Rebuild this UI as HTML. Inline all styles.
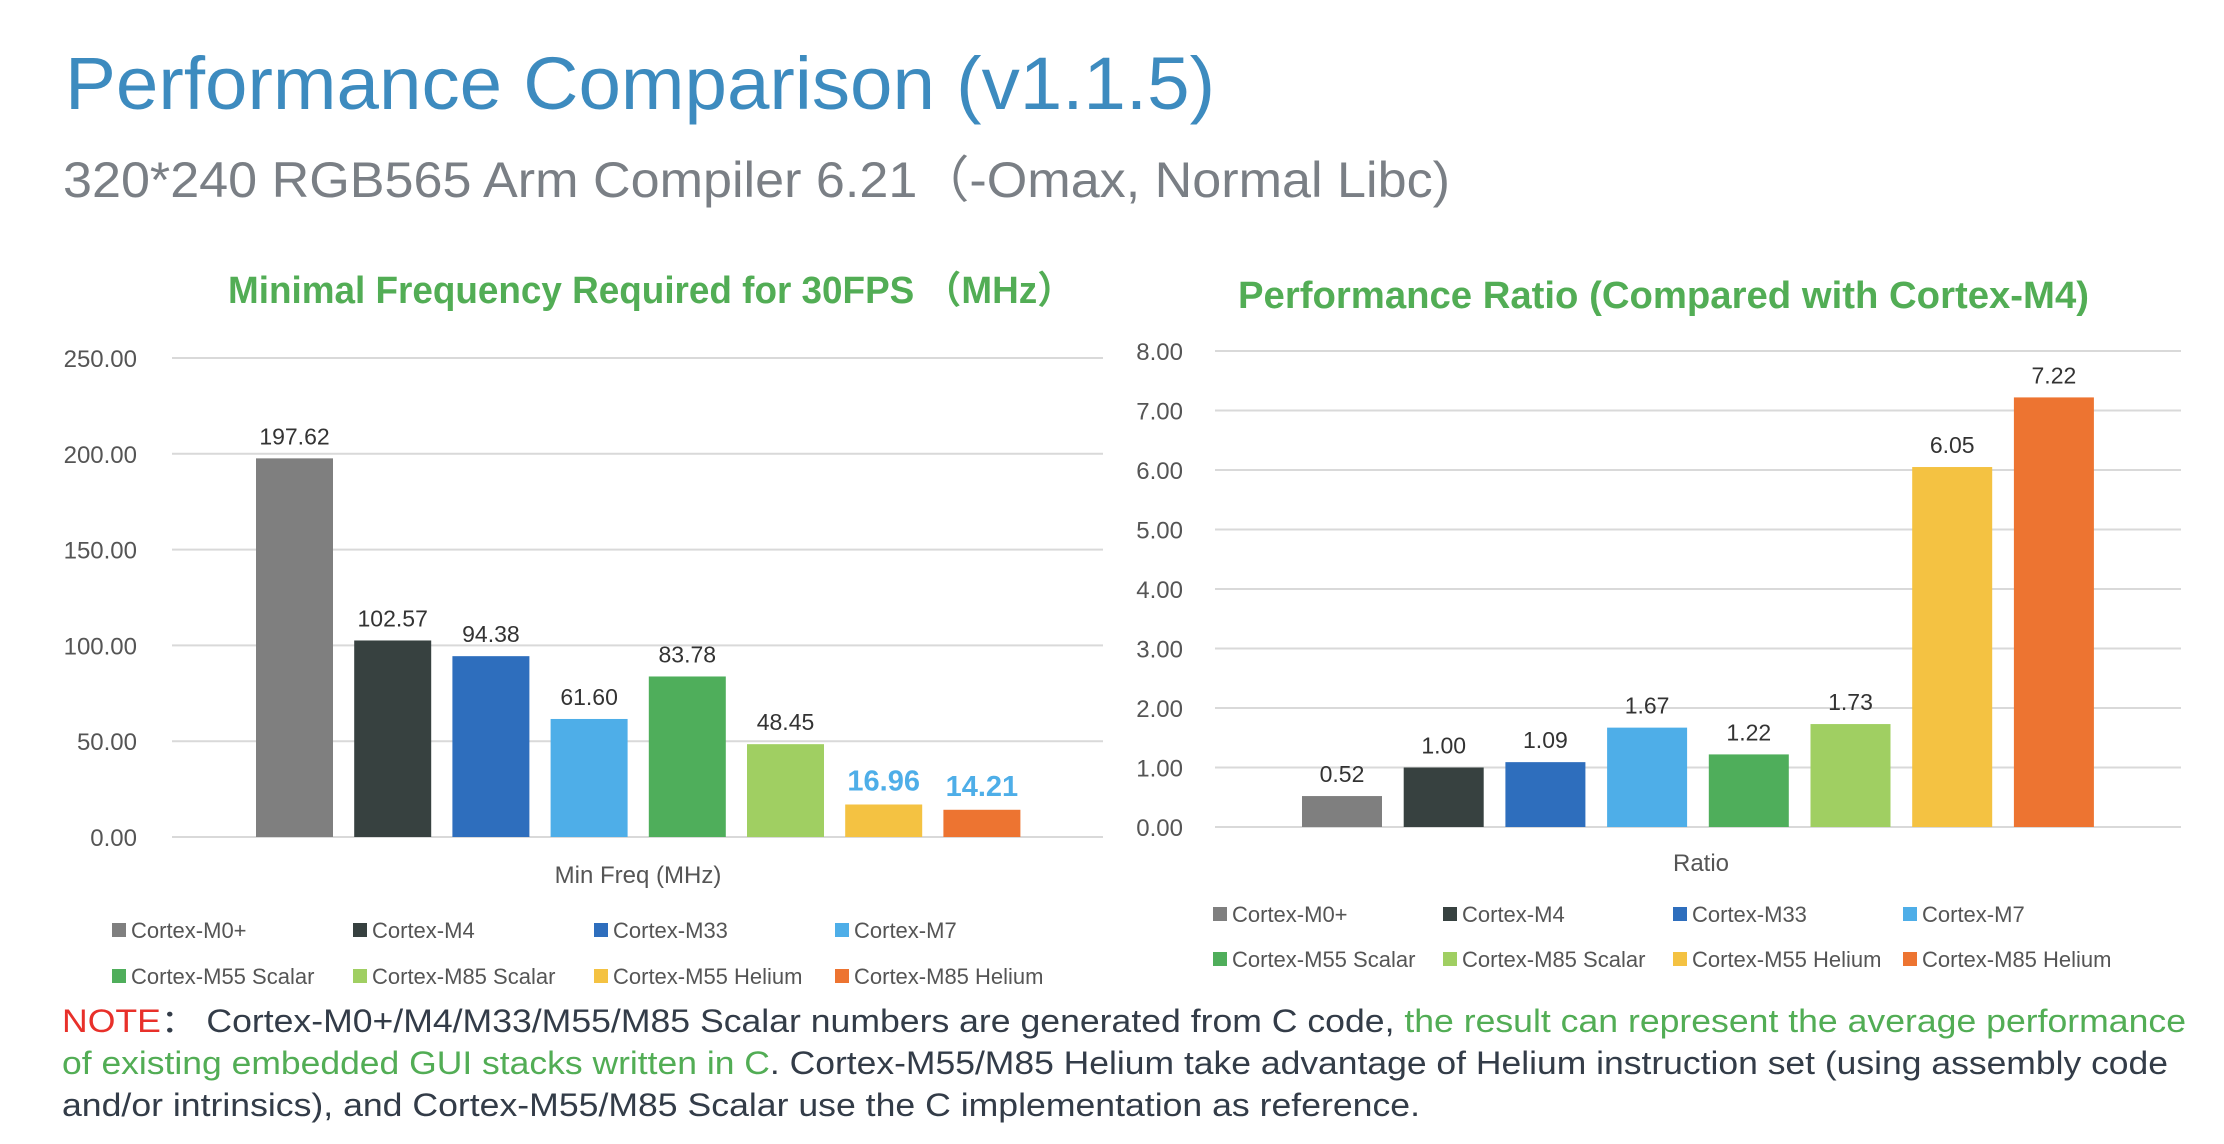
<!DOCTYPE html>
<html><head><meta charset="utf-8"><style>
html,body{margin:0;padding:0;background:#fff;}
svg{display:block;font-family:"Liberation Sans","Noto Sans CJK SC",sans-serif;}
</style></head><body>
<svg id="s" width="2224" height="1144" viewBox="0 0 2224 1144" xmlns="http://www.w3.org/2000/svg">
<text x="65" y="109" font-size="74" fill="#3d8bbf" textLength="1150" lengthAdjust="spacingAndGlyphs">Performance Comparison (v1.1.5)</text>
<text x="63" y="197" font-size="50" fill="#7a7f85" textLength="1387" lengthAdjust="spacingAndGlyphs">320*240 RGB565 Arm Compiler 6.21（-Omax, Normal Libc)</text>
<text x="228" y="303" font-size="38" font-weight="bold" fill="#52ad55" textLength="846" lengthAdjust="spacingAndGlyphs">Minimal Frequency Required for 30FPS （MHz）</text>
<text x="1238" y="308" font-size="38" font-weight="bold" fill="#52ad55" textLength="851" lengthAdjust="spacingAndGlyphs">Performance Ratio (Compared with Cortex-M4)</text>
<g id="left"></g>
<g id="right"></g>
<text x="638" y="883" font-size="24" fill="#555" text-anchor="middle">Min Freq (MHz)</text>
<text x="1701" y="871" font-size="24" fill="#555" text-anchor="middle">Ratio</text>
<text x="62" y="1032" font-size="32" fill="#333c48" textLength="2124" lengthAdjust="spacingAndGlyphs"><tspan fill="#e8302a">NOTE</tspan>：  Cortex-M0+/M4/M33/M55/M85 Scalar numbers are generated from C code, <tspan fill="#52ad55">the result can represent the average performance</tspan></text>
<text x="62" y="1074" font-size="32" fill="#333c48" textLength="2106" lengthAdjust="spacingAndGlyphs"><tspan fill="#52ad55">of existing embedded GUI stacks written in C</tspan>. Cortex-M55/M85 Helium take advantage of Helium instruction set (using assembly code</text>
<text x="62" y="1116" font-size="32" fill="#333c48" textLength="1358" lengthAdjust="spacingAndGlyphs">and/or intrinsics), and Cortex-M55/M85 Scalar use the C implementation as reference.</text>
</svg>
<script>
const categories = ["Cortex-M0+","Cortex-M4","Cortex-M33","Cortex-M7","Cortex-M55 Scalar","Cortex-M85 Scalar","Cortex-M55 Helium","Cortex-M85 Helium"];
const freqValues = [197.62,102.57,94.38,61.60,83.78,48.45,16.96,14.21];
const ratioValues = [0.52,1.00,1.09,1.67,1.22,1.73,6.05,7.22];
const freqTicks = [0,50,100,150,200,250];
const ratioTicks = [0,1,2,3,4,5,6,7,8];
const colors = ["#7f7f7f","#374140","#2e6ebd","#4eaee8","#4fae5b","#a0cf62","#f4c242","#ed7431"];
const NS="http://www.w3.org/2000/svg";
function mk(parent,tag,attrs,txt){const e=document.createElementNS(NS,tag);for(const k in attrs)e.setAttribute(k,attrs[k]);if(txt!=null)e.textContent=txt;parent.appendChild(e);return e;}
function chart(gid,vals,ticks,cfg){
  const g=document.getElementById(gid);
  const max=ticks[ticks.length-1];
  const y=v=>cfg.y0-(v/max)*(cfg.y0-cfg.y1);
  ticks.forEach(t=>{
    const l=mk(g,'line',{x1:cfg.gx0,x2:cfg.gx1,y1:y(t),y2:y(t),stroke:'#d9d9d9','stroke-width':2});
    
    
    const tx=mk(g,'text',{x:cfg.lx,y:y(t)+9,'font-size':24,fill:'#555','text-anchor':'end'},t.toFixed(2));
    
    
  });
  vals.forEach((v,i)=>{
    const x=cfg.bx+i*cfg.pitch;
    const r=mk(g,'rect',{x:x,y:y(v),width:cfg.bw,height:cfg.y0-y(v),fill:colors[i]});
    
    
    const hl=cfg.highlight&&i>=6;
    const t=mk(g,'text',{x:x+cfg.bw/2,y:y(v)-14,'font-size':hl?29:23,'font-weight':hl?'bold':'normal',fill:hl?'#4eaee8':'#333','text-anchor':'middle'},v.toFixed(2));
    
    
  });
  categories.forEach((c,i)=>{
    const col=i%4,row=Math.floor(i/4);
    const lx=cfg.legx+col*cfg.legp, ly=cfg.legy[row];
    const sq=mk(g,'rect',{x:lx,y:ly-7,width:14,height:14,fill:colors[i]});
    
    
    const t=mk(g,'text',{x:lx+19,y:ly+8,'font-size':22,fill:'#555'},c);
    
    
  });
}
chart('left',freqValues,freqTicks,{y0:837,y1:358,gx0:172,gx1:1103,lx:137,bx:256,pitch:98.2,bw:77,legx:112,legp:241,legy:[930,976],highlight:true});
chart('right',ratioValues,ratioTicks,{y0:827,y1:351,gx0:1215,gx1:2181,lx:1183,bx:1302,pitch:101.7,bw:80,legx:1213,legp:230,legy:[914,959],highlight:false});
</script>
</body></html>
